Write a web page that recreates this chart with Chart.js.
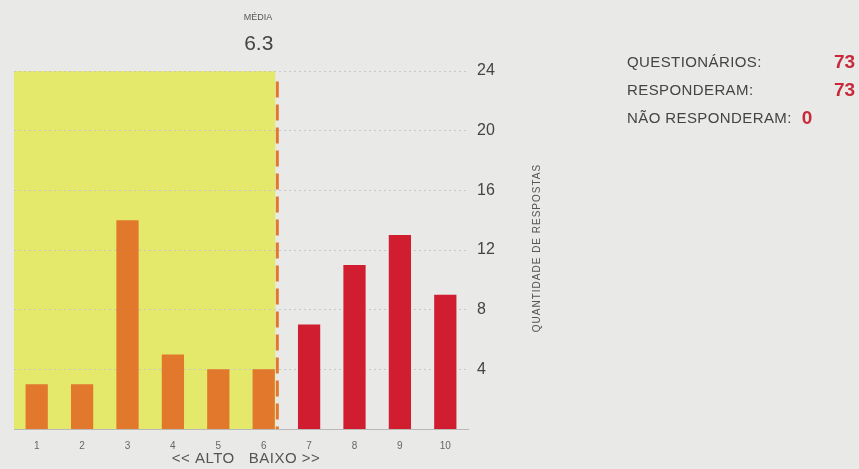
<!DOCTYPE html>
<html>
<head>
<meta charset="utf-8">
<script src="https://cdn.jsdelivr.net/npm/chart.js@4"></script>
<style>
  html, body { margin: 0; padding: 0; background: #e9e9e8; }
  #wrap { width: 859px; height: 469px; position: relative; }
</style>
</head>
<body>
<div id="wrap"><canvas id="myChart"></canvas></div>
<script>
// data
const categories = ["1", "2", "3", "4", "5", "6", "7", "8", "9", "10"];
const respostas = [3, 3, 14, 5, 4, 4, 7, 11, 13, 9];
const yTicks = [4, 8, 12, 16, 20, 24];
const media = 6.3;
const resumoLabels = ["QUESTIONÁRIOS:", "RESPONDERAM:", "NÃO RESPONDERAM:"];
const resumoValues = ["73", "73", "0"];

const FONT = "'Liberation Sans', Arial, sans-serif";
const ORANGE = "#e1782b";
const RED = "#d01e30";

const barColors = categories.map((c, i) => (i < 6 ? ORANGE : RED));

// yellow zone, mean line and side texts
const extras = {
  id: "extras",
  beforeDraw(chart) {
    const { ctx, chartArea, scales } = chart;
    const xm = scales.x.getPixelForValue(media - 1);
    const yTop = scales.y.getPixelForValue(24);
    ctx.save();
    ctx.fillStyle = "#e4e86b";
    ctx.fillRect(chartArea.left, yTop, xm - chartArea.left - 2, chartArea.bottom - yTop);
    ctx.restore();
  },
  afterDatasetsDraw(chart) {
    const { ctx, chartArea, scales } = chart;
    const xm = scales.x.getPixelForValue(media - 1);
    ctx.save();
    // mean line
    ctx.strokeStyle = ORANGE;
    ctx.lineWidth = 3;
    ctx.setLineDash([16, 7]);
    ctx.beginPath();
    ctx.moveTo(xm, scales.y.getPixelForValue(23.3));
    ctx.lineTo(xm, chartArea.bottom);
    ctx.stroke();
    ctx.setLineDash([]);

    // MÉDIA label
    ctx.fillStyle = "#555";
    ctx.textAlign = "right";
    ctx.textBaseline = "middle";
    ctx.font = "9px " + FONT;
    ctx.fillText("MÉDIA", xm - 5, 18);
    ctx.fillStyle = "#444";
    ctx.font = "21px " + FONT;
    ctx.fillText(media.toFixed(1), xm - 4, 44);

    // x axis caption
    ctx.textAlign = "center";
    ctx.fillStyle = "#555";
    ctx.font = "15px " + FONT;
    ctx.letterSpacing = "0.5px";
    ctx.fillText("<< ALTO   BAIXO >>", 246, 459);

    // y axis title, reading upward
    ctx.save();
    ctx.translate(537, 248);
    ctx.rotate(-Math.PI / 2);
    ctx.font = "10px " + FONT;
    ctx.letterSpacing = "1px";
    ctx.fillStyle = "#555";
    ctx.fillText("QUANTIDADE DE RESPOSTAS", 0, 0);
    ctx.restore();

    // summary on the right
    const rows = [63, 91, 119];
    resumoLabels.forEach((t, i) => {
      ctx.textAlign = "left";
      ctx.font = "15px " + FONT;
      ctx.letterSpacing = "0.4px";
      ctx.fillStyle = "#444";
      ctx.fillText(t, 627, rows[i]);
      const end = 627 + ctx.measureText(t).width;
      const vx = Math.max(834, end + 10) === 834 && i < 2 ? 834 : end + 10;
      ctx.font = "bold 19px " + FONT;
      ctx.letterSpacing = "0px";
      ctx.fillStyle = "#c8283a";
      ctx.fillText(resumoValues[i], vx, rows[i]);
    });
    ctx.restore();
  },
};

const data = {
  labels: categories,
  datasets: [
    {
      label: "Respostas",
      data: respostas,
      backgroundColor: barColors,
      categoryPercentage: 1,
      barPercentage: 0.49,
    },
  ],
};

const config = {
  type: "bar",
  data,
  options: {
    responsive: true,
    maintainAspectRatio: false,
    animation: false,
    layout: {
      padding: { left: 14, top: 71, right: 0, bottom: 0 },
    },
    scales: {
      x: {
        grid: { display: false },
        border: { display: true, color: "#b9b9b9", width: 1 },
        ticks: {
          color: "#666",
          font: { family: FONT, size: 10 },
          padding: 3,
          maxRotation: 0,
        },
        afterFit(scale) {
          scale.height = 40;
        },
      },
      y: {
        position: "right",
        min: 0,
        max: 24,
        afterBuildTicks(scale) {
          scale.ticks = yTicks.map((v) => ({ value: v }));
        },
        grid: {
          color: "#c8c8c8",
          lineWidth: 1,
          drawTicks: false,
        },
        border: { display: false, dash: [2, 3] },
        ticks: {
          color: "#444",
          font: { family: FONT, size: 16 },
          padding: 9,
        },
        afterFit(scale) {
          scale.width = 859 - 14 - 454;
        },
      },
    },
    plugins: {
      legend: { display: false },
      tooltip: { enabled: false },
    },
  },
  plugins: [extras],
};

const myChart = new Chart(document.getElementById("myChart"), config);
</script>
</body>
</html>
